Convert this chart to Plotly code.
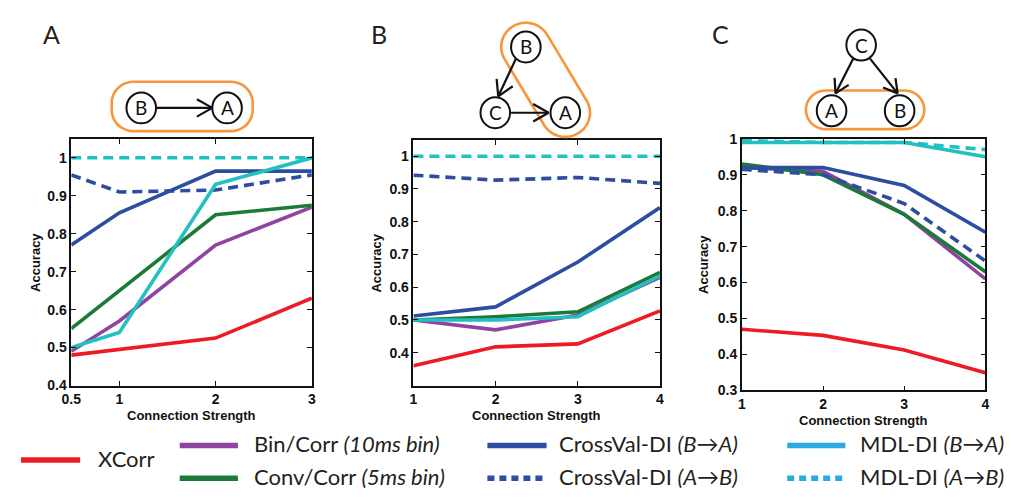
import numpy as np
import plotly.graph_objects as go

W, H = 1018, 497
OFF = 8               # page body margin of the html page
FW, FH = W - OFF, H - OFF

# ---------------- data ----------------
x_A = [0.5, 1, 2, 3]
x_BC = [1, 2, 3, 4]

series_names = ["XCorr", "Bin/Corr (10ms bin)", "Conv/Corr (5ms bin)",
                "CrossVal-DI (B→A)", "CrossVal-DI (A→B)", "MDL-DI (B→A)", "MDL-DI (A→B)"]

A_xcorr = [0.48, 0.495, 0.525, 0.63]
A_bin = [0.49, 0.57, 0.77, 0.87]
A_conv = [0.55, 0.65, 0.85, 0.875]
A_cv_ba = [0.77, 0.855, 0.965, 0.965]
A_cv_ab = [0.955, 0.91, 0.915, 0.955]
A_mdl_ba = [0.50, 0.54, 0.93, 1.0]
A_mdl_ab = [1.0, 1.0, 1.0, 1.0]

B_xcorr = [0.36, 0.418, 0.427, 0.528]
B_bin = [0.50, 0.47, 0.515, 0.63]
B_conv = [0.50, 0.51, 0.525, 0.645]
B_cv_ba = [0.512, 0.54, 0.677, 0.843]
B_cv_ab = [0.942, 0.927, 0.935, 0.917]
B_mdl_ba = [0.50, 0.50, 0.51, 0.635]
B_mdl_ab = [1.0, 1.0, 1.0, 1.0]

C_xcorr = [0.47, 0.453, 0.412, 0.349]
C_bin = [0.92, 0.91, 0.79, 0.61]
C_conv = [0.93, 0.90, 0.79, 0.63]
C_cv_ba = [0.92, 0.92, 0.87, 0.74]
C_cv_ab = [0.915, 0.90, 0.82, 0.66]
C_mdl_ba = [0.99, 0.99, 0.99, 0.95]
C_mdl_ab = [0.995, 0.99, 0.99, 0.97]

tick_A_x = [0.5, 1, 2, 3]
tick_A_xtext = ["0.5", "1", "2", "3"]
tick_BC_x = [1, 2, 3, 4]
tick_BC_xtext = ["1", "2", "3", "4"]
tick_y = [0.3, 0.4, 0.5, 0.6, 0.7, 0.8, 0.9, 1.0]
tick_ytext = ["0.3", "0.4", "0.5", "0.6", "0.7", "0.8", "0.9", "1"]

# ---------------- styles ----------------
RED = "#ed1c24"
PURPLE = "#8e44a0"
GREEN = "#1b7a3a"
BLUE = "#2d4da0"
CYAN = "#22c0c0"
CYAN_LEG = "#29abe2"
ORANGE = "#f7963c"
DASH = "10px,6px"

styles = [
    dict(color=RED, dash="solid"),
    dict(color=PURPLE, dash="solid"),
    dict(color=GREEN, dash="solid"),
    dict(color=BLUE, dash="solid"),
    dict(color=BLUE, dash=DASH),
    dict(color=CYAN, dash="solid"),
    dict(color=CYAN, dash=DASH),
]

panels = [
    ("x", "y", x_A, [A_xcorr, A_bin, A_conv, A_cv_ba, A_cv_ab, A_mdl_ba, A_mdl_ab]),
    ("x2", "y2", x_BC, [B_xcorr, B_bin, B_conv, B_cv_ba, B_cv_ab, B_mdl_ba, B_mdl_ab]),
    ("x3", "y3", x_BC, [C_xcorr, C_bin, C_conv, C_cv_ba, C_cv_ab, C_mdl_ba, C_mdl_ab]),
]

fig = go.Figure()
for xa, ya, xs, ser in panels:
    for name, ys, st in zip(series_names, ser, styles):
        fig.add_trace(go.Scatter(x=xs, y=ys, mode="lines", name=name, xaxis=xa, yaxis=ya,
                                 line=dict(color=st["color"], width=3.6, dash=st["dash"]),
                                 showlegend=False, hoverinfo="skip"))


def px_x(x):
    return (x - OFF) / FW


def px_y(y):
    return 1 - (y - OFF) / FH


# axes boxes in page pixels (left, right, top, bottom)
boxes = {
    "": (62, 306, 135, 390),
    "2": (409, 659, 136, 390),
    "3": (742, 989, 135, 395),
}
xranges = {"": [0.5, 3], "2": [1, 4], "3": [1, 4]}
yranges = {"": [0.4, 1.05], "2": [0.3, 1.05], "3": [0.3, 1.0]}
xticks = {"": (tick_A_x, tick_A_xtext), "2": (tick_BC_x, tick_BC_xtext), "3": (tick_BC_x, tick_BC_xtext)}
yticks = {"": (tick_y[1:], tick_ytext[1:]), "2": (tick_y[1:], tick_ytext[1:]), "3": (tick_y, tick_ytext)}

tickfont = dict(family="Liberation Sans, Arial, sans-serif", size=14, color="#111", weight="bold")
layout_axes = {}
for k, (l, r, t, b) in boxes.items():
    common = dict(showline=True, linecolor="#111", linewidth=1.5, mirror="ticks", ticks="inside",
                  ticklen=5, tickcolor="#111", tickwidth=1, showgrid=False, zeroline=False,
                  tickfont=tickfont)
    layout_axes["xaxis" + k] = dict(domain=[px_x(l), px_x(r)], range=xranges[k], anchor="y" + k,
                                    tickmode="array", tickvals=xticks[k][0], ticktext=xticks[k][1],
                                    **common)
    layout_axes["yaxis" + k] = dict(domain=[px_y(b), px_y(t)], range=yranges[k], anchor="x" + k,
                                    tickmode="array", tickvals=yticks[k][0], ticktext=yticks[k][1],
                                    **common)

fig.update_layout(**layout_axes)

annotations = []
shapes = []

labfont = dict(family="Liberation Sans, Arial, sans-serif", size=13, color="#111", weight="bold")
# axis titles
for k, (l, r, t, b) in boxes.items():
    annotations.append(dict(x=px_x((l + r) / 2), y=px_y(b + 31), xref="paper", yref="paper",
                            text="Connection Strength", showarrow=False, font=labfont,
                            xanchor="center", yanchor="middle"))
acc_x = {"": 25, "2": 372, "3": 703}
for k, (l, r, t, b) in boxes.items():
    annotations.append(dict(x=px_x(acc_x[k]), y=px_y((t + b) / 2), xref="paper", yref="paper",
                            text="Accuracy", showarrow=False, font=labfont, textangle=-90,
                            xanchor="center", yanchor="middle"))

# panel letters
letfont = dict(family="Lato, Open Sans, sans-serif", size=25, color="#231f20")
for txt, x in [("A", 42), ("B", 374), ("C", 720)]:
    annotations.append(dict(x=px_x(x), y=px_y(27), xref="paper", yref="paper", text=txt,
                            showarrow=False, font=letfont, xanchor="center", yanchor="middle"))


# ---------- diagram helpers (page pixels -> paper) ----------
def path_from(points):
    return "M " + " L ".join(f"{px_x(x):.5f},{px_y(y):.5f}" for x, y in points) + " Z"


def capsule(p1, p2, r, n=30):
    p1 = np.array(p1, float)
    p2 = np.array(p2, float)
    d = p2 - p1
    ang = np.arctan2(d[1], d[0])
    pts = []
    for a in np.linspace(ang - np.pi / 2, ang + np.pi / 2, n):
        pts.append(p2 + r * np.array([np.cos(a), np.sin(a)]))
    for a in np.linspace(ang + np.pi / 2, ang + 3 * np.pi / 2, n):
        pts.append(p1 + r * np.array([np.cos(a), np.sin(a)]))
    return path_from(pts)


def rrect(x0, y0, x1, y1, r, n=12):
    pts = []
    corners = [(x1 - r, y0 + r, -np.pi / 2, 0), (x1 - r, y1 - r, 0, np.pi / 2),
               (x0 + r, y1 - r, np.pi / 2, np.pi), (x0 + r, y0 + r, np.pi, 1.5 * np.pi)]
    for cx, cy, a0, a1 in corners:
        for a in np.linspace(a0, a1, n):
            pts.append((cx + r * np.cos(a), cy + r * np.sin(a)))
    return path_from(pts)


def node(cx, cy, label, rx=15, ry=16):
    shapes.append(dict(type="circle", xref="paper", yref="paper",
                       x0=px_x(cx - rx), x1=px_x(cx + rx), y0=px_y(cy + ry), y1=px_y(cy - ry),
                       line=dict(color="#111", width=2), fillcolor="white", layer="above"))
    annotations.append(dict(x=px_x(cx), y=px_y(cy), xref="paper", yref="paper", text=label,
                            showarrow=False, font=dict(family="Lato, Open Sans, sans-serif",
                                                       size=19, color="#111"),
                            xanchor="center", yanchor="middle"))


def seg(a, b, w=2.2):
    shapes.append(dict(type="line", xref="paper", yref="paper", x0=px_x(a[0]), y0=px_y(a[1]),
                       x1=px_x(b[0]), y1=px_y(b[1]), line=dict(color="#111", width=w)))


def arrow(a, b, L=18, ang=30):
    a = np.array(a, float)
    b = np.array(b, float)
    seg(a, b)
    d = (b - a) / np.linalg.norm(b - a)
    for s in (1, -1):
        t = np.radians(ang) * s
        rot = np.array([d[0] * np.cos(t) - d[1] * np.sin(t), d[0] * np.sin(t) + d[1] * np.cos(t)])
        seg(b, b - L * rot)


def outline(path):
    shapes.append(dict(type="path", xref="paper", yref="paper", path=path,
                       line=dict(color=ORANGE, width=2.6), fillcolor="rgba(0,0,0,0)"))


# Panel A diagram
outline(rrect(103, 76, 246, 127, 22))
arrow((148, 103), (205, 103))
node(133, 103, "B")
node(220, 103, "A")

# Panel B diagram
outline(capsule((523, 40), (563, 108), 25))
arrow((513, 52), (495, 91), L=18)
arrow((508, 108), (546, 108))
node(523, 40, "B")
node(492, 108, "C")
node(563, 108, "A")

# Panel C diagram
outline(rrect(807, 85, 927, 125, 20))
arrow((855, 52), (837, 88), L=16)
arrow((872, 52), (900, 88), L=16)
node(863, 38, "C")
node(833, 106, "A")
node(902, 106, "B")

# ---------- legend (drawn) ----------
legfont = dict(family="Lato, Open Sans, sans-serif", size=22, color="#231f20")
leg_items = [
    (11, 71, 467, RED, "solid", 87, "XCorr"),
    (172, 231, 452, PURPLE, "solid", 245, "Bin/Corr <i>(10ms bin)</i>"),
    (172, 231, 486, GREEN, "solid", 245, "Conv/Corr <i>(5ms bin)</i>"),
    (484, 544, 452, BLUE, "solid", 555, "CrossVal-DI <i>(B→A)</i>"),
    (484, 544, 486, BLUE, "7px,5px", 555, "CrossVal-DI <i>(A→B)</i>"),
    (788, 847, 452, CYAN_LEG, "solid", 860, "MDL-DI <i>(B→A)</i>"),
    (788, 847, 486, CYAN_LEG, "7px,5px", 860, "MDL-DI <i>(A→B)</i>"),
]
for x0, x1, y, col, dash, tx, txt in leg_items:
    shapes.append(dict(type="line", xref="paper", yref="paper", x0=px_x(x0), x1=px_x(x1),
                       y0=px_y(y), y1=px_y(y), line=dict(color=col, width=5.5, dash=dash)))
    annotations.append(dict(x=px_x(tx), y=px_y(y - 2), xref="paper", yref="paper", text=txt,
                            showarrow=False, font=legfont, xanchor="left", yanchor="middle"))

fig.update_layout(width=FW, height=FH, margin=dict(l=0, r=0, t=0, b=0),
                  paper_bgcolor="white", plot_bgcolor="white", showlegend=False,
                  shapes=shapes, annotations=annotations)

fig.write_html("out.html")
